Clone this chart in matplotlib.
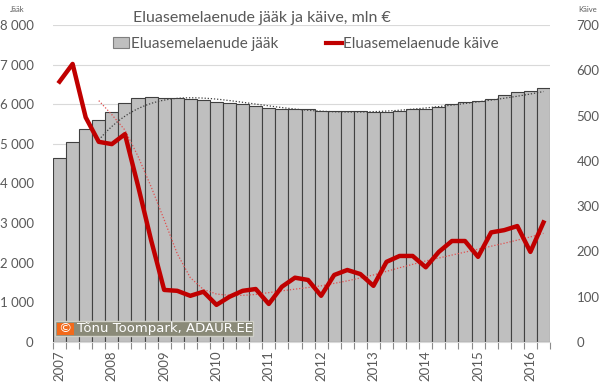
import numpy as np
import matplotlib.pyplot as plt
from matplotlib.patches import Patch, Rectangle
from matplotlib.lines import Line2D
from matplotlib.ticker import FuncFormatter

# andmed kvartalite kaupa, 2007 Q1 - 2016 Q2
aastad = ['2007', '2008', '2009', '2010', '2011', '2012', '2013', '2014', '2015', '2016']
jaak = [4650, 5040, 5370, 5600, 5810, 6030, 6150, 6190, 6160, 6150,
        6120, 6100, 6060, 6040, 6010, 5960, 5910, 5890, 5875, 5870,
        5830, 5825, 5830, 5825, 5800, 5815, 5840, 5870, 5875, 5925,
        6000, 6060, 6080, 6145, 6230, 6305, 6345, 6420]
kaive = [575, 614, 496, 442, 437, 459, 345, 225, 115, 113,
         102, 111, 82, 100, 113, 117, 84, 122, 142, 137,
         102, 148, 159, 150, 124, 177, 190, 190, 165, 199,
         223, 223, 188, 242, 247, 256, 199, 264]

# trendijoonte väärtused pildilt (kvartali indeks, väärtus)
trend_jaak_x = [3.0, 4.5, 6.15, 7.4, 8.7, 9.7, 13.8, 16.3, 18.9, 21.4, 24.0, 26.5, 29.1, 32.7, 35.2, 37.0]
trend_jaak_y = [5126, 5520, 5900, 6110, 6160, 6155, 6025, 5940, 5860, 5825, 5815, 5860, 5920, 6110, 6210, 6320]
trend_kaive_x = [3, 4, 5, 6, 7, 8, 9, 10, 11, 12, 13, 14, 15, 17, 20, 22, 24, 26, 28, 30, 32, 34, 36, 37]
trend_kaive_y = [533, 502, 468, 410, 343, 270, 195, 142, 116, 106, 103, 103, 105, 113, 124, 135, 148, 164, 179, 192, 205, 218, 232, 240]

hall = '#595959'
plt.rcParams['font.family'] = ['Lato', 'DejaVu Sans']

fig = plt.figure(figsize=(6, 3.92), dpi=100)
ax = fig.add_axes([53/600, 1-342/392, 497/600, 317/392])
ax2 = ax.twinx()

x = np.arange(len(jaak))
ax.bar(x, jaak, width=1.0, color='#bfbfbf', edgecolor='#404040', linewidth=0.8, zorder=2)
ax.set_axisbelow(True)
ax.grid(axis='y', color='#d9d9d9', linewidth=0.8)
ax.set_xlim(-0.5, len(jaak) - 0.5)
ax.set_ylim(0, 8000)
ax.set_yticks(range(0, 8001, 1000))
ax.yaxis.set_major_formatter(FuncFormatter(lambda v, p: f'{int(v):,}'.replace(',', ' ')))

# trendijooned
xs = np.linspace(3, 37, 200)
pj = np.polyfit(trend_jaak_x, trend_jaak_y, 6)
ax.plot(xs, np.polyval(pj, xs), color='#404040', linestyle=(0, (1, 1.5)), linewidth=0.9, zorder=3)

ax2.plot(x, kaive, color='#c00000', linewidth=3.2, solid_joinstyle='round', zorder=4)
ax2.plot(trend_kaive_x, trend_kaive_y, color='#e05050', linestyle=(0, (1, 1.5)), linewidth=0.9, zorder=3)
ax2.set_ylim(0, 700)
ax2.set_yticks(range(0, 701, 100))

ax.set_xticks(range(0, len(jaak), 4))
ax.set_xticklabels(aastad, rotation=90)
ax.set_xticks(np.arange(-0.5, len(jaak), 1), minor=True)
ax.tick_params(axis='x', which='major', length=0, pad=6, labelsize=9.5, labelcolor=hall)
ax.tick_params(axis='x', which='minor', length=5, color='#8c8c8c', width=0.8)
ax.tick_params(axis='y', length=0, pad=14, labelsize=9.5, labelcolor=hall)
ax2.tick_params(axis='y', length=0, pad=19, labelsize=9.5, labelcolor=hall)
for a in (ax, ax2):
    for s in a.spines.values():
        s.set_visible(False)
ax.spines['bottom'].set_visible(True)
ax.spines['bottom'].set_color('#d9d9d9')

fig.text(262/600, 1-18/392, 'Eluasemelaenude jääk ja käive, mln €', ha='center', va='center',
         fontsize=11.5, color=hall)
fig.text(10/600, 1-9/392, 'Jääk', fontsize=5.5, color=hall, va='center')
fig.text(578/600, 1-9/392, 'Käive', fontsize=5.5, color=hall, va='center')

handles = [Patch(facecolor='#bfbfbf', edgecolor='#7f7f7f', linewidth=0.8),
           Line2D([], [], color='#c00000', linewidth=3)]
fig.legend(handles, ['Eluasemelaenude jääk', 'Eluasemelaenude käive'], loc='center',
           bbox_to_anchor=(306/600, 1-44/392), ncol=2, frameon=False, fontsize=11,
           handlelength=1.05, handleheight=0.75, handletextpad=0.1, columnspacing=3.1,
           labelcolor=hall)

# vesimärk
fig.add_artist(Rectangle((55/600, 1-336/392), 198/600, 15/392, transform=fig.transFigure,
                         facecolor='#8a8a78', edgecolor='#d0d0c8', linewidth=1, zorder=5))
fig.add_artist(Rectangle((56.5/600, 1-334.5/392), 17/600, 12/392, transform=fig.transFigure,
                         facecolor='#f26a1b', edgecolor='none', zorder=6))
fig.text(65/600, 1-328.5/392, '©', color='white', fontsize=9.5, ha='center', va='center',
         family='DejaVu Sans', zorder=7)
fig.text(77/600, 1-328.5/392, 'Tõnu Toompark, ADAUR.EE', color='white', fontsize=9.5,
         ha='left', va='center', family='DejaVu Sans', zorder=7)

fig.savefig('out.png', dpi=100)
